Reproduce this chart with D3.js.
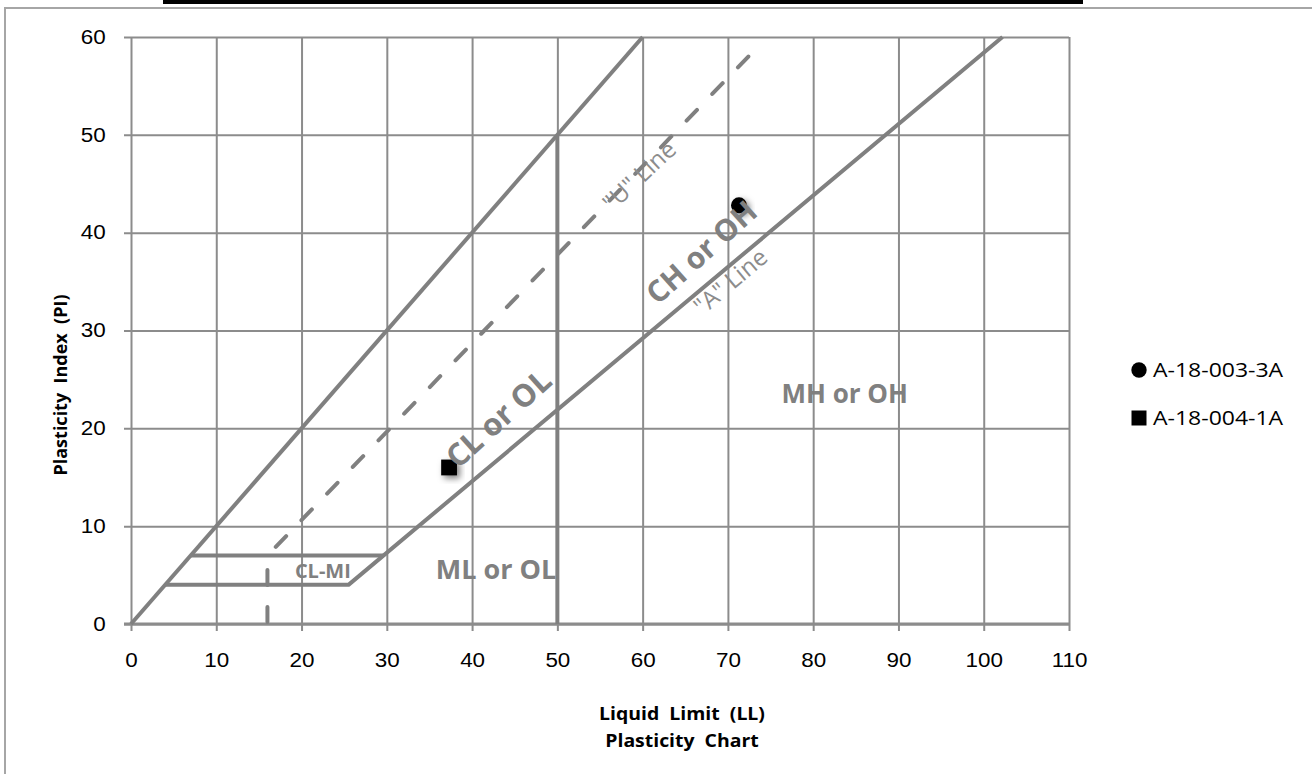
<!DOCTYPE html>
<html>
<head>
<meta charset="utf-8">
<script src="https://cdn.jsdelivr.net/npm/d3@7"></script>
<style>
  body { margin: 0; background: #fff; }
  svg { display: block; font-family: "Open Sans", sans-serif; }
  .grid line { stroke: #8c8c8c; stroke-width: 2; }
  .grid path { display: none; }
  .grid text { fill: #000; font-size: 19.5px; }
  .chartLine { fill: none; stroke: #808080; stroke-width: 4; stroke-linejoin: round; }
  .dashLine { stroke-dasharray: 15 22; stroke-linecap: round; }
  .zone { fill: #808080; font-weight: bold; }
  .lineNote { fill: #8c8c8c; }
  .title { font-weight: bold; fill: #000; }
</style>
</head>
<body>
<svg id="chart" width="1312" height="774"></svg>
<script>
// axis ticks
var xTicks = [0, 10, 20, 30, 40, 50, 60, 70, 80, 90, 100, 110];
var yTicks = [0, 10, 20, 30, 40, 50, 60];

// classification lines, [LL, PI]
var equalLine = [[0, 0], [60, 60]];
var aLine = [[4, 4], [25.5, 4], [102.2, 60]];
var clmiTop = [[7, 7], [29.6, 7]];
var uLineFoot = [[16, 0], [16, 7]];
var uLine = [[16, 7], [73.5, 59]];
var llFifty = [[50, 0], [50, 50]];

// samples
var sampleNames = ["A-18-003-3A", "A-18-004-1A"];
var sampleLL = [71.3, 37.3];
var samplePI = [42.8, 16.0];
var sampleShapes = ["circle", "square"];

var svg = d3.select("#chart");
var sx = 1.15; // text in the original is a little wider than tall

var x = d3.scaleLinear().domain([0, 110]).range([131, 1069]);
var y = d3.scaleLinear().domain([0, 60]).range([624, 37]);

// drop shadow for the markers
var f = svg.append("defs").append("filter").attr("id", "shadow")
    .attr("x", "-50%").attr("y", "-50%").attr("width", "200%").attr("height", "200%");
f.append("feDropShadow").attr("dx", 3).attr("dy", 3).attr("stdDeviation", 3)
    .attr("flood-color", "#000").attr("flood-opacity", 0.5);

// outer frame and top bar
svg.append("rect").attr("x", 163).attr("y", 0).attr("width", 920).attr("height", 4).attr("fill", "#000");
svg.append("path").attr("d", "M5,774 V8 H1312").attr("fill", "none")
    .attr("stroke", "#a6a6a6").attr("stroke-width", 2);

// vertical grid + x labels
var gx = svg.append("g").attr("class", "grid")
    .attr("transform", "translate(0," + (y(0) + 7) + ")")
    .call(d3.axisBottom(x).tickValues(xTicks).tickSize(-(y(0) + 7 - y(60))).tickPadding(22));
gx.selectAll("text").attr("transform", "scale(" + sx + ",1)");

// horizontal grid + y labels
var gy = svg.append("g").attr("class", "grid")
    .attr("transform", "translate(" + (x(0) - 7) + ",0)")
    .call(d3.axisLeft(y).tickValues(yTicks).tickSize(-(x(110) - x(0) + 7)).tickPadding(16));
gy.selectAll("text").attr("transform", "scale(" + sx + ",1)");

// base line
svg.append("line").attr("x1", x(0) - 7).attr("x2", x(110))
    .attr("y1", y(0)).attr("y2", y(0)).attr("stroke", "#8c8c8c").attr("stroke-width", 3);

var line = d3.line().x(d => x(d[0])).y(d => y(d[1]));

[equalLine, aLine, clmiTop, llFifty].forEach(function (d) {
    svg.append("path").attr("class", "chartLine").attr("d", line(d));
});
svg.append("path").attr("class", "chartLine dashLine").attr("d", line(uLineFoot))
    .attr("stroke-dashoffset", -2);
svg.append("path").attr("class", "chartLine dashLine").attr("d", line(uLine))
    .attr("stroke-dashoffset", 25);

// sample points
var sym = {circle: d3.symbolCircle, square: d3.symbolSquare};
sampleNames.forEach(function (name, i) {
    svg.append("path")
        .attr("d", d3.symbol().type(sym[sampleShapes[i]]).size(sampleShapes[i] == "circle" ? 200 : 250)())
        .attr("transform", "translate(" + x(sampleLL[i]) + "," + y(samplePI[i]) + ")")
        .attr("fill", "#000")
        .attr("filter", "url(#shadow)");
});

// text helper
function note(cls, px, py, str, size, angle, stretch) {
    return svg.append("text").attr("class", cls)
        .attr("transform", "translate(" + px + "," + py + ") scale(" + stretch + ",1) rotate(" + angle + ")")
        .attr("text-anchor", "middle").attr("dy", "0.35em")
        .style("font-size", size + "px")
        .style("white-space", "pre")
        .text(str);
}

// zone labels
note("zone", x(43.1), y(21.0), "CL or OL", 31, -42, 1);
note("zone", x(66.9), y(38.0), "CH or OH", 30, -42, 1);
note("zone", x(42.8), y(5.6), "ML or OL", 27, 0, 1);
note("zone", x(83.7), y(23.5), "MH or OH", 26, 0, 1);
note("zone", x(22.5), y(5.4), "CL-MI", 20, 0, 1);
note("lineNote", x(59.6), y(45.8), "\"U\" Line", 24, -43, 1);
note("lineNote", x(70.3), y(35.0), "\"A\" Line", 24, -40, 1);

// axis titles
note("title", 61, 385, "Plasticity  Index  (PI)", 18, -90, 1);
note("title", 682, 714, "Liquid  Limit  (LL)", 18, 0, 1.08);
note("title", 682, 741, "Plasticity  Chart", 18, 0, 1.08);

// legend
var legendY = [370, 418];
sampleNames.forEach(function (name, i) {
    var lx = 1139, ly = legendY[i];
    svg.append("path")
        .attr("d", d3.symbol().type(sym[sampleShapes[i]]).size(sampleShapes[i] == "circle" ? 185 : 225)())
        .attr("transform", "translate(" + lx + "," + ly + ")")
        .attr("fill", "#000");
    svg.append("text")
        .attr("transform", "translate(" + (lx + 14) + "," + ly + ") scale(" + sx + ",1)")
        .attr("dy", "0.35em")
        .style("font-size", "20px")
        .text(name);
});
</script>
</body>
</html>
